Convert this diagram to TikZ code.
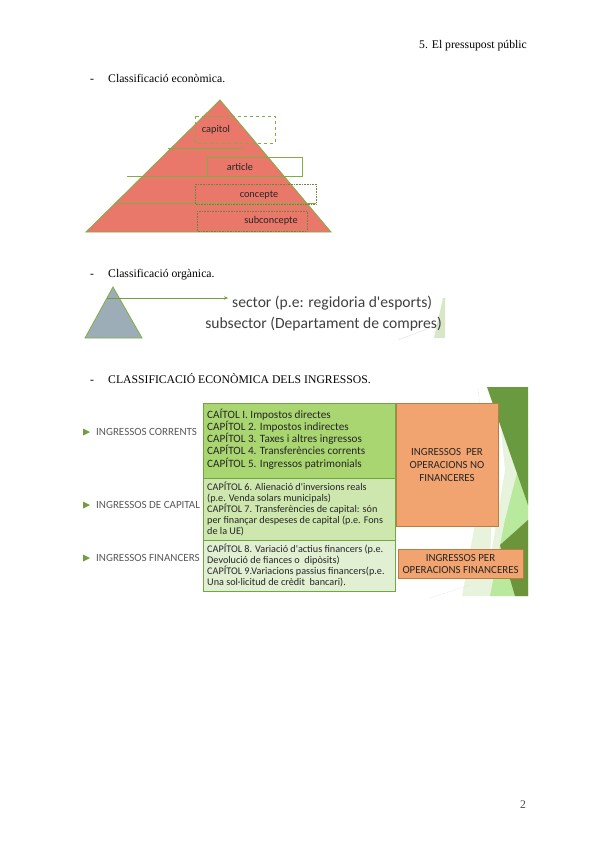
\documentclass[tikz,border=0pt]{standalone}
\usepackage{fontspec}
\setmainfont{Liberation Serif}
\newfontfamily\calfont{Carlito}
\usetikzlibrary{arrows.meta}
\definecolor{pyrfill}{HTML}{E9786A}
\definecolor{grn}{HTML}{7FAE45}
\definecolor{dgrn}{HTML}{6A9A40}
\definecolor{trifill}{HTML}{9DADB7}
\definecolor{txtgray}{HTML}{404040}
\definecolor{lblgray}{HTML}{595959}
\definecolor{boxA}{HTML}{A9D670}
\definecolor{boxB}{HTML}{CDE7AE}
\definecolor{boxC}{HTML}{E1F0D3}
\definecolor{boxline}{HTML}{6FA83E}
\definecolor{orng}{HTML}{F2A470}
\definecolor{orngline}{HTML}{B87D45}
\tikzset{
  serif/.style={font=\fontsize{11.7}{14}\selectfont, inner sep=0pt, anchor=base west},
  pyrlbl/.style={font=\calfont\fontsize{10.3}{11}\selectfont, text=black!85, inner sep=0pt},
  pyrline/.style={draw=grn, line width=0.6pt},
  sidelbl/.style={font=\calfont\fontsize{11}{12}\selectfont, text=lblgray, inner sep=0pt, anchor=west},
  bullet/.style={fill=grn!90!black, draw=none},
  gbox/.style={draw=boxline, line width=0.7pt},
  boxtxt/.style={font=\calfont\fontsize{11.2}{12.3}\selectfont, text=black!85, inner sep=0pt, anchor=north west, align=left},
  boxtxtsm/.style={font=\calfont\fontsize{10.2}{11}\selectfont, text=black!85, inner sep=0pt, anchor=north west, align=left},
  obox/.style={fill=orng, draw=orngline, line width=0.7pt},
  otxt/.style={font=\calfont\fontsize{10.9}{12.6}\selectfont, text=black!85, align=center, inner sep=0pt},
}
\begin{document}
\begin{tikzpicture}[x=1pt,y=-1pt]
\useasboundingbox[fill=white] (0,0) rectangle (600,848);

% header
\node[serif, anchor=base east] (hdr) at (527,49) {5. El pressupost públic};

% section 1
\node[serif] (d1) at (90,83) {-};
\node[serif] (t1) at (108,83) {Classificació econòmica.};

% pyramid
\path[fill=pyrfill, draw=grn, line width=0.8pt] (220,100) -- (331,232) -- (86,232) -- cycle;
\draw[pyrline] (168,148) -- (243,148);
\draw[pyrline] (127,176) -- (302,176);
\draw[pyrline] (115,203) -- (316,203);
\draw[draw=grn, line width=0.7pt, dashed] (195,116) rectangle (275,143);
\draw[draw=grn, line width=0.7pt] (207,157) rectangle (302,176);
\draw[draw=grn!80!black, line width=0.6pt, densely dotted] (195,184) rectangle (316,204);
\draw[draw=grn!80!black, line width=0.6pt, densely dotted] (197,211) rectangle (307,231);
\node[pyrlbl] (cap) at (216,130) {capitol};
\node[pyrlbl] (art) at (240,167) {article};
\node[pyrlbl] (con) at (259,195) {concepte};
\node[pyrlbl] (sub) at (271,221) {subconcepte};

% section 2
\node[serif] (d2) at (90,277) {-};
\node[serif] (t2) at (108,277) {Classificació orgànica.};
\path[fill=trifill, draw=grn, line width=0.8pt] (113,287) -- (142,338) -- (85,338) -- cycle;
\coordinate (arrS) at (107,298);
\coordinate (arrE) at (228,298);
\draw[draw=grn!90!black, line width=0.9pt, -{Stealth[length=4pt,width=3.5pt]}] (arrS) -- (arrE);
\fill[grn!30] (443,298) -- (445,298) -- (445,338) -- (434,338) -- cycle;
\draw[black!12, line width=0.4pt] (398,340) -- (443,323);
\node[font=\calfont\fontsize{15.6}{17}\selectfont, text=txtgray, inner sep=0pt, anchor=west] (sec) at (232,303) {sector (p.e: regidoria d'esports)};
\node[font=\calfont\fontsize{15.6}{17}\selectfont, text=txtgray, inner sep=0pt, anchor=east] (subsec) at (442,324) {subsector (Departament de compres)};

% section 3
\node[serif] (d3) at (90,383) {-};
\node[serif] (t3) at (108,383) {CLASSIFICACIÓ ECONÒMICA DELS INGRESSOS.};

% decoration on the right
\fill[boxC!80!white] (498,395) -- (528,450) -- (528,596) -- (462,596) -- cycle;
\fill[white] (500,420) -- (505,470) -- (490,560) -- (494,470) -- cycle;
\fill[boxB!90!green] (528,430) -- (528,596) -- (490,596) -- (505,520) -- cycle;
\fill[dgrn] (487,387) -- (528,387) -- (528,505) -- cycle;
\fill[grn!85!black] (500,545) -- (528,520) -- (528,596) -- (515,596) -- cycle;
\draw[black!20, line width=0.4pt, densely dotted] (478,388) -- (486,470);
\draw[black!20, line width=0.4pt, densely dotted] (430,598) -- (470,585);

% green boxes
\path[fill=boxA, gbox] (203,403) rectangle (395,478);
\path[fill=boxB, gbox] (203,478) rectangle (395,540);
\path[fill=boxC, gbox] (203,540) rectangle (395,591);

\node[boxtxt] (b1) at (207,408.5) {CAÍTOL I. Impostos directes\\CAPÍTOL 2. Impostos indirectes\\CAPÍTOL 3. Taxes i altres ingressos\\CAPÍTOL 4. Transferències corrents\\CAPÍTOL 5. Ingressos patrimonials};
\node[boxtxtsm] (b2) at (207,482) {CAPÍTOL 6. Alienació d'inversions reals\\(p.e. Venda solars municipals)\\CAPÍTOL 7. Transferències de capital: són\\per finançar despeses de capital (p.e. Fons\\de la UE)};
\node[boxtxtsm] (b3) at (207,544) {CAPÍTOL 8. Variació d'actius financers (p.e.\\Devolució de fiances o\ \ dipòsits)\\CAPÍTOL 9.Variacions passius financers(p.e.\\Una sol·licitud de crèdit\ \ bancari).};

% orange boxes
\path[obox] (396,403) rectangle (498,526);
\node[otxt] (o1) at (447,465) {INGRESSOS\ \ PER\\OPERACIONS NO\\FINANCERES};
\path[obox] (398,549) rectangle (523,578);
\node[otxt] (o2) at (460.5,564) {INGRESSOS PER\\OPERACIONS FINANCERES};

% left labels
\fill[bullet] (83,428.5) -- (90,432) -- (83,435.5) -- cycle;
\node[sidelbl] (l1) at (96,432) {INGRESSOS CORRENTS};
\fill[bullet] (83,501.5) -- (90,505) -- (83,508.5) -- cycle;
\node[sidelbl] (l2) at (96,505) {INGRESSOS DE CAPITAL};
\fill[bullet] (83,554.5) -- (90,558) -- (83,561.5) -- cycle;
\node[sidelbl] (l3) at (96,558) {INGRESSOS FINANCERS};

% page number
\node[font=\fontsize{11.7}{14}\selectfont, text=black!70, inner sep=0pt] (pg) at (523,805) {2};
\end{tikzpicture}
\end{document}
